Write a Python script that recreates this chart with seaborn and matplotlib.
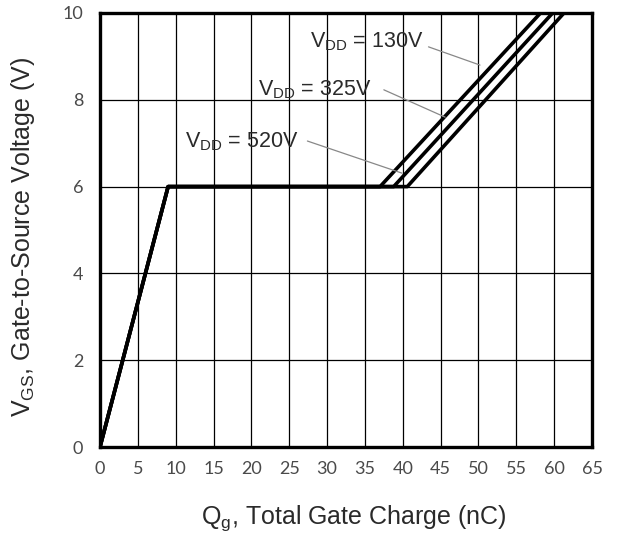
import matplotlib
matplotlib.use("Agg")
import matplotlib.pyplot as plt
import seaborn as sns
import pandas as pd

# Data
vdd_labels = ["130V", "325V", "520V"]
qg_130 = [0, 9.0, 37.0, 58.2]
vgs_130 = [0, 6, 6, 10]
qg_325 = [0, 9.0, 38.8, 59.8]
vgs_325 = [0, 6, 6, 10]
qg_520 = [0, 9.0, 40.6, 61.3]
vgs_520 = [0, 6, 6, 10]

x_ticks = [0, 5, 10, 15, 20, 25, 30, 35, 40, 45, 50, 55, 60, 65]
y_ticks = [0, 2, 4, 6, 8, 10]

# annotation: label position and pointer target
ann_text_xy = [(27.7, 9.33), (20.9, 8.23), (11.2, 7.03)]
ann_start = [(43.4, 9.22), (37.5, 8.23), (27.4, 7.05)]
ann_end = [(50.2, 8.8), (45.6, 7.6), (39.9, 6.31)]

rows = []
for lab, qs, vs in zip(vdd_labels, [qg_130, qg_325, qg_520], [vgs_130, vgs_325, vgs_520]):
    for i, (q, v) in enumerate(zip(qs, vs)):
        rows.append({"Qg": q, "VGS": v, "VDD": lab, "order": i})
df = pd.DataFrame(rows)

sns.set_theme(style="white")
plt.rcParams["font.family"] = ["Liberation Sans", "DejaVu Sans"]
plt.rcParams["mathtext.fontset"] = "custom"
plt.rcParams["mathtext.rm"] = "Liberation Sans"
plt.rcParams["mathtext.it"] = "Liberation Sans"

fig = plt.figure(figsize=(6.38, 5.38), dpi=100)
ax = fig.add_axes([100 / 638, 1 - 447 / 538, 492 / 638, 434 / 538])

sns.lineplot(data=df, x="Qg", y="VGS", hue="VDD", units="VDD", estimator=None,
             sort=False, palette=["black"] * 3, linewidth=2.6, legend=False, ax=ax,
             zorder=3)

ax.set_xlim(0, 65)
ax.set_ylim(0, 10)
ax.set_xticks(x_ticks)
ax.set_yticks(y_ticks)
ax.set_xticklabels([str(t) for t in x_ticks])
ax.set_yticklabels([str(t) for t in y_ticks])
ax.grid(True, color="black", linewidth=0.9)
ax.set_axisbelow(True)
for s in ax.spines.values():
    s.set_visible(True)
    s.set_color("black")
    s.set_linewidth(2.4)
    s.set_zorder(4)
ax.tick_params(axis="both", length=0, labelsize=13, labelcolor="#4a4a4a",
               colors="#4a4a4a")
ax.tick_params(axis="x", pad=10)
ax.tick_params(axis="y", pad=12)
for lbl in ax.get_xticklabels() + ax.get_yticklabels():
    lbl.set_family(["Lato", "DejaVu Sans"])

ax.set_xlabel(r"Q$_{\rm g}$, Total Gate Charge (nC)", fontsize=18, color="#2a2a2a")
ax.set_ylabel(r"V$_{\rm GS}$, Gate-to-Source Voltage (V)", fontsize=18, color="#2a2a2a")
ax.xaxis.set_label_coords((354 - 100) / 492, -(518 - 447) / 434)
ax.yaxis.set_label_coords(-(100 - 23) / 492, (447 - 237) / 434)
ax.xaxis.label.set_va("center")
ax.yaxis.label.set_va("center")

for lab, txy, s, e in zip(vdd_labels, ann_text_xy, ann_start, ann_end):
    ax.text(txy[0], txy[1], r"V$_{\rm DD}$ = " + lab, fontsize=15.5, color="#2a2a2a",
            va="center", ha="left", zorder=5)
    ax.plot([s[0], e[0]], [s[1], e[1]], color="#888888", linewidth=0.9, zorder=5)

fig.savefig("out.png", dpi=100)
